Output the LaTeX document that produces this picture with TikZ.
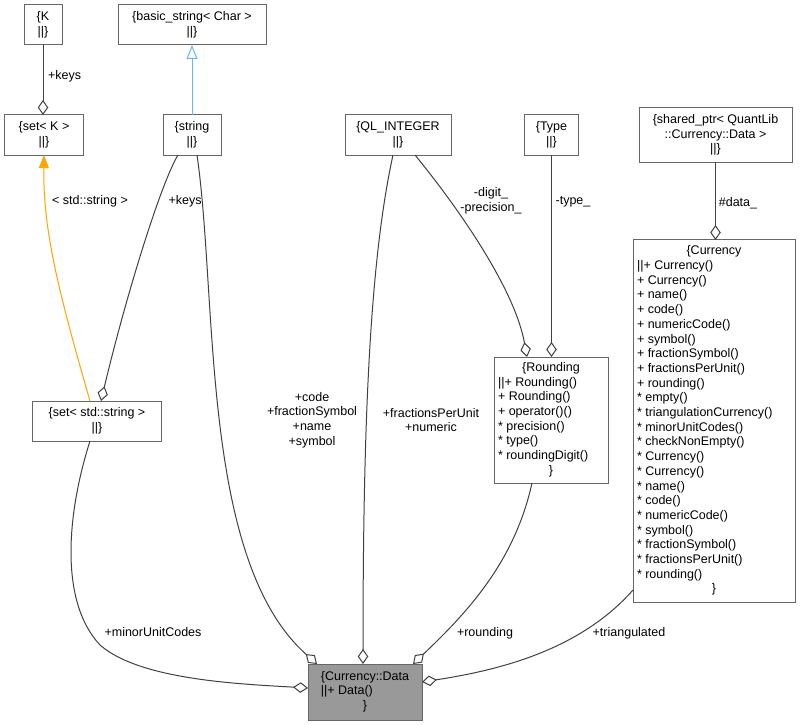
\documentclass[tikz,border=0pt]{standalone}
\usepackage{fontspec}
\setmainfont{Liberation Sans}
\usetikzlibrary{arrows.meta}
\definecolor{boxline}{HTML}{666666}
\definecolor{edgeline}{HTML}{404040}
\definecolor{datafill}{HTML}{999999}
\definecolor{inhblue}{HTML}{63B8FF}
\definecolor{tplorange}{HTML}{FFA500}
\begin{document}
\begin{tikzpicture}[x=1bp,y=-1bp,
  font=\fontsize{12.5bp}{14.7bp}\selectfont,
  cls/.style={draw=boxline, fill=white, line width=1bp, inner sep=0pt, outer sep=0pt, align=center},
  lbl/.style={align=center, inner sep=0pt, text=black},
  agg/.style={draw=edgeline, line width=1bp, -{Diamond[fill=white, length=15bp, width=10.5bp]}},
  inh/.style={draw=inhblue, line width=1bp, -{Triangle[fill=white, length=14bp, width=11bp]}},
  tpl/.style={draw=tplorange, line width=1bp, -{Triangle[length=13bp, width=10bp]}}]
\useasboundingbox (0,0) rectangle (801,725);

% class boxes
\node[cls, minimum width=38bp, minimum height=40bp] (K) at (43,25) {\{K\\||\}};
\node[cls, minimum width=78bp, minimum height=40bp] (setK) at (44,135) {\{set< K >\\||\}};
\node[cls, minimum width=148bp, minimum height=40bp] (basic) at (192,25) {\{basic\_string< Char >\\||\}};
\node[cls, minimum width=58bp, minimum height=40bp] (string) at (192,135) {\{string\\||\}};
\node[cls, minimum width=106bp, minimum height=40bp] (qlint) at (398,135) {\{QL\_INTEGER\\||\}};
\node[cls, minimum width=54bp, minimum height=40bp] (type) at (551.5,135) {\{Type\\||\}};
\node[cls, minimum width=153bp, minimum height=54bp] (shptr) at (715.5,135) {\{shared\_ptr< QuantLib\\::Currency::Data >\\||\}};
\node[cls, minimum width=128bp, minimum height=40bp] (setstr) at (97,421) {\{set< std::string >\\||\}};

\node[cls, minimum width=162bp, minimum height=362bp] (currency) at (714,421) {%
\begin{tabular}{@{}l@{}}
\makebox[154bp]{\{Currency}\\
||+ Currency()\\
+ Currency()\\
+ name()\\
+ code()\\
+ numericCode()\\
+ symbol()\\
+ fractionSymbol()\\
+ fractionsPerUnit()\\
+ rounding()\\
{*} empty()\\
{*} triangulationCurrency()\\
{*} minorUnitCodes()\\
{*} checkNonEmpty()\\
{*} Currency()\\
{*} Currency()\\
{*} name()\\
{*} code()\\
{*} numericCode()\\
{*} symbol()\\
{*} fractionSymbol()\\
{*} fractionsPerUnit()\\
{*} rounding()\\
\makebox[154bp]{\}}
\end{tabular}};

\node[cls, minimum width=114bp, minimum height=126bp] (rounding) at (551,420) {%
\begin{tabular}{@{}l@{}}
\makebox[106bp]{\{Rounding}\\
||+ Rounding()\\
+ Rounding()\\
+ operator()()\\
{*} precision()\\
{*} type()\\
{*} roundingDigit()\\
\makebox[106bp]{\}}
\end{tabular}};

\node[cls, fill=datafill, minimum width=114bp, minimum height=56bp] (data) at (365,692) {%
\begin{tabular}{@{}l@{}}
\{Currency::Data\\
||+ Data()\\
\multicolumn{1}{@{}c@{}}{\}}
\end{tabular}};

% edge labels
\node[lbl, anchor=west] (lk) at (48,76) {+keys};
\node[lbl] (lstd) at (90,201) {< std::string >};
\node[lbl] (lkeys) at (185,201) {+keys};
\node[lbl] (lcode) at (312,420) {+code\\+fractionSymbol\\+name\\+symbol};
\node[lbl] (lfpu) at (431,420) {+fractionsPerUnit\\+numeric};
\node[lbl] (ldig) at (491,201) {-digit\_\\-precision\_};
\node[lbl] (ltype) at (573,202) {-type\_};
\node[lbl] (ldata) at (738,203) {\#data\_};
\node[lbl] (lmuc) at (153,632) {+minorUnitCodes};
\node[lbl] (lround) at (485,633) {+rounding};
\node[lbl] (ltri) at (629,633) {+triangulated};

% connectors
\draw[agg] (K.south) -- (K.south |- setK.north);
\draw[inh] (string.north) -- (string.north |- basic.south);
\draw[tpl] ([xshift=-7bp]setstr.north) .. controls (58,290) and (43,230) .. (setK.south);
\draw[agg] ([xshift=-14bp]string.south) .. controls (160,185) and (125,300) .. ([xshift=4bp]setstr.north);
\draw[agg] ([xshift=5bp]string.south) .. controls (218,300) and (200,560) .. ([xshift=-48bp]data.north);
\draw[agg] ([xshift=-5bp]qlint.south) .. controls (370,260) and (363,420) .. ([xshift=-2bp]data.north);
\draw[agg] ([xshift=17bp]qlint.south) .. controls (460,210) and (515,290) .. ([xshift=-24bp]rounding.north);
\draw[agg] (type.south) -- (type.south |- rounding.north);
\draw[agg] (shptr.south) -- (shptr.south |- currency.north);
\draw[agg] ([xshift=-7bp]setstr.south) .. controls (68,510) and (58,600) .. (100,645) .. controls (140,680) and (240,684) .. ([yshift=4bp]data.west);
\draw[agg] ([xshift=-19bp]rounding.south) .. controls (515,560) and (470,610) .. ([xshift=48bp]data.north);
\draw[agg] ([yshift=12bp]currency.south west) .. controls (580,650) and (500,670) .. ([yshift=10bp]data.east);
\end{tikzpicture}
\end{document}
